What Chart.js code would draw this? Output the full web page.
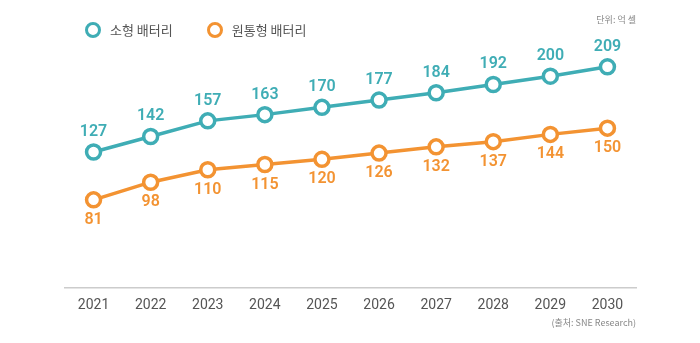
<!DOCTYPE html>
<html>
<head>
<meta charset="utf-8">
<script src="https://cdn.jsdelivr.net/npm/chart.js@4/dist/chart.umd.min.js"></script>
<style>
  html, body { margin: 0; padding: 0; background: #fff; }
  .wrap { position: relative; width: 700px; height: 343px; font-family: 'Noto Sans CJK KR', sans-serif; }
  canvas { position: absolute; left: 0; top: 0; }
  .legend { position: absolute; top: 20px; left: 85px; display: flex; font-size: 13px; color: #555; }
  .legend span { display: flex; align-items: center; margin-right: 34px; }
  .legend i { display: inline-block; width: 10px; height: 10px; border-radius: 50%; border: 3.5px solid; margin-right: 9px; }
  .unit { position: absolute; top: 13px; right: 64px; font-size: 9px; color: #888; }
  .source { position: absolute; top: 316px; right: 64px; font-size: 9px; color: #888; }
</style>
</head>
<body>
<div class="wrap">
  <canvas id="chart" width="700" height="343"></canvas>
  <div class="legend">
    <span><i style="border-color:#3fadb5"></i>소형 배터리</span>
    <span><i style="border-color:#f39332"></i>원통형 배터리</span>
  </div>
  <div class="unit">단위: 억 셀</div>
  <div class="source">(출처: SNE Research)</div>
</div>
<script>
const years = ['2021', '2022', '2023', '2024', '2025', '2026', '2027', '2028', '2029', '2030'];
const smallCells = [127, 142, 157, 163, 170, 177, 184, 192, 200, 209];
const cylinderCells = [81, 98, 110, 115, 120, 126, 132, 137, 144, 150];

const BLUE = '#3fadb5';
const ORANGE = '#f39332';

// draws the value above (blue) or below (orange) each point
const valueLabels = {
  id: 'valueLabels',
  afterDatasetsDraw(chart) {
    const ctx = chart.ctx;
    ctx.save();
    ctx.font = '600 16px Roboto, sans-serif';
    ctx.textAlign = 'center';
    ctx.textBaseline = 'middle';
    chart.data.datasets.forEach((ds, i) => {
      const meta = chart.getDatasetMeta(i);
      ctx.fillStyle = ds.borderColor;
      meta.data.forEach((pt, j) => {
        const dy = i === 0 ? -20 : 20;
        ctx.fillText(String(ds.data[j]), pt.x, pt.y + dy);
      });
    });
    ctx.restore();
  },
};

const ctx = document.getElementById('chart').getContext('2d');
// eslint-disable-next-line no-unused-vars
const chart = new Chart(ctx, {
  type: 'line',
  data: {
    labels: years,
    datasets: [{
      label: '소형 배터리',
      data: smallCells,
      borderColor: BLUE,
      backgroundColor: '#fff',
      borderWidth: 3.5,
      pointRadius: 7,
      pointBorderWidth: 3.5,
      pointBackgroundColor: '#fff',
      tension: 0,
    }, {
      label: '원통형 배터리',
      data: cylinderCells,
      borderColor: ORANGE,
      backgroundColor: '#fff',
      borderWidth: 3.5,
      pointRadius: 7,
      pointBorderWidth: 3.5,
      pointBackgroundColor: '#fff',
      tension: 0,
    }],
  },
  options: {
    responsive: false,
    maintainAspectRatio: false,
    animation: false,
    layout: {
      padding: { left: 65, right: 64, top: 45, bottom: 20 },
    },
    plugins: {
      legend: { display: false },
      tooltip: { enabled: false },
    },
    scales: {
      x: {
        offset: true,
        grid: { display: false, drawTicks: false },
        border: { color: '#cccccc', width: 1.5 },
        ticks: {
          color: '#555',
          padding: 9,
          font: { family: 'Roboto, sans-serif', size: 14 },
        },
      },
      y: {
        display: false,
        min: -4,
        max: 230,
      },
    },
  },
  plugins: [valueLabels],
});
</script>
</body>
</html>
